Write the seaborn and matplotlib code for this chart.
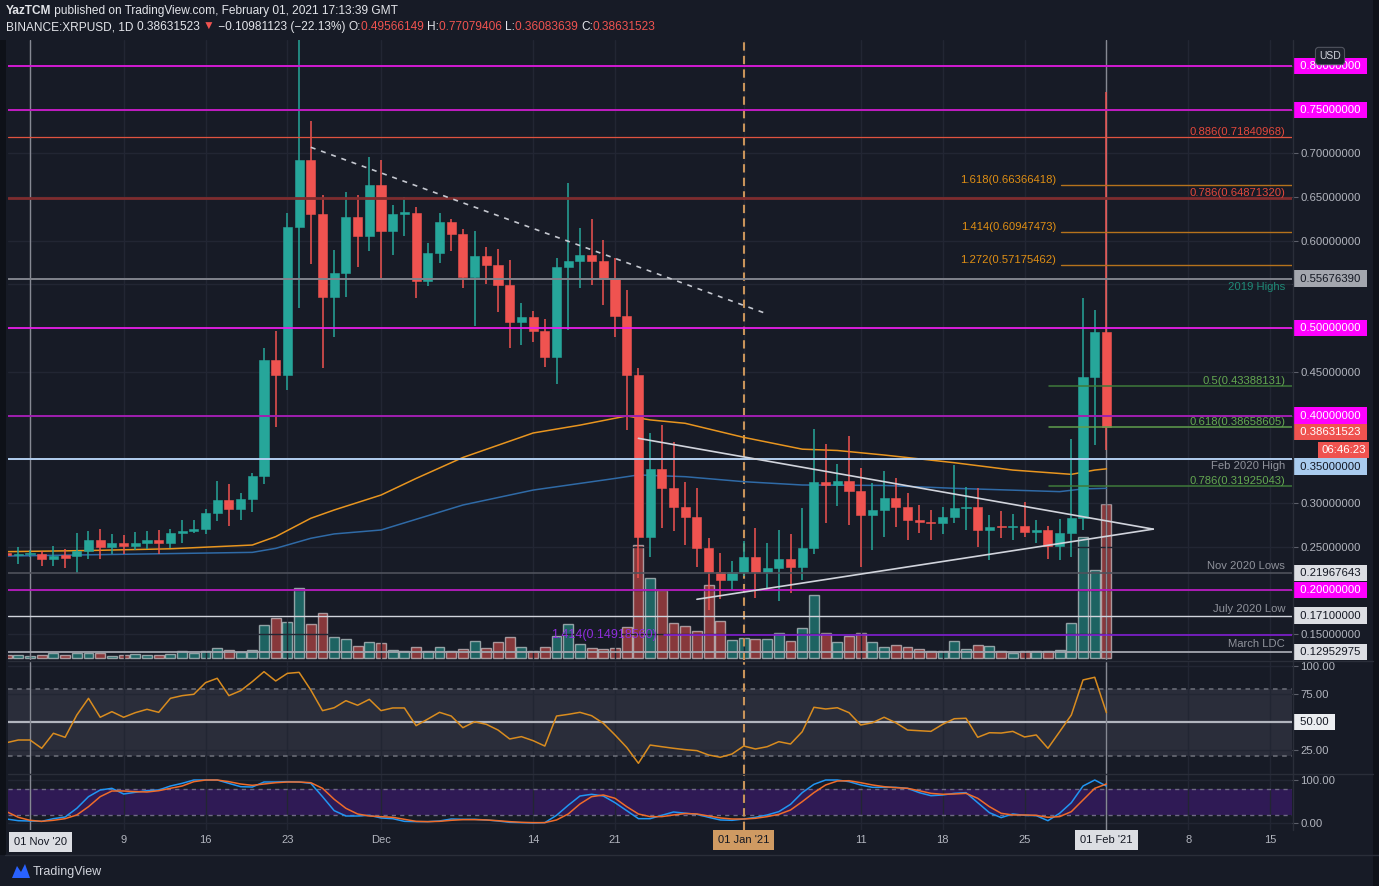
import numpy as np
import pandas as pd
import matplotlib
matplotlib.use("Agg")
import matplotlib.pyplot as plt
import matplotlib.dates as mdates
import matplotlib.transforms as mtransforms
from matplotlib.lines import Line2D
from matplotlib.patches import Polygon, Rectangle
import seaborn as sns

# ─── data ────────────────────────────────────────────────
dates = pd.date_range("2020-10-30", "2021-02-01", freq="D")

opens = [0.243, 0.240, 0.241, 0.241, 0.236, 0.2405, 0.239, 0.245, 0.258, 0.249, 0.254, 0.251, 0.254, 0.257, 0.254, 0.265,
         0.268, 0.270, 0.288, 0.303, 0.293, 0.304, 0.331, 0.463, 0.446, 0.616, 0.693, 0.631, 0.536, 0.563, 0.627, 0.605,
         0.664, 0.611, 0.631, 0.632, 0.554, 0.586, 0.622, 0.608, 0.558, 0.583, 0.572, 0.549, 0.507, 0.513, 0.497, 0.467,
         0.570, 0.577, 0.584, 0.577, 0.556, 0.514, 0.446, 0.261, 0.339, 0.3175, 0.295, 0.284, 0.248, 0.2213, 0.2118,
         0.2205, 0.2377, 0.2205, 0.2251, 0.2355, 0.2262, 0.2488, 0.3243, 0.3205, 0.3247, 0.3136, 0.2865, 0.2919, 0.306,
         0.2957, 0.280, 0.2785, 0.2766, 0.2842, 0.2938, 0.295, 0.2685, 0.2728, 0.2720, 0.2740, 0.2671, 0.2690, 0.2507,
         0.2652, 0.2823, 0.4438, 0.49566]
highs = [0.246, 0.250, 0.246, 0.245, 0.251, 0.247, 0.266, 0.268, 0.270, 0.264, 0.263, 0.267, 0.268, 0.269, 0.270, 0.280,
         0.280, 0.293, 0.325, 0.322, 0.311, 0.334, 0.477, 0.497, 0.632, 0.830, 0.737, 0.652, 0.589, 0.656, 0.652, 0.696,
         0.693, 0.641, 0.650, 0.639, 0.598, 0.632, 0.625, 0.613, 0.611, 0.593, 0.591, 0.578, 0.529, 0.520, 0.511, 0.580,
         0.666, 0.615, 0.625, 0.601, 0.580, 0.544, 0.454, 0.380, 0.389, 0.370, 0.3235, 0.317, 0.2594, 0.243, 0.234,
         0.256, 0.271, 0.2537, 0.2686, 0.2648, 0.2938, 0.385, 0.367, 0.345, 0.3765, 0.3396, 0.3224, 0.337, 0.328, 0.311,
         0.2976, 0.2919, 0.2957, 0.343, 0.3185, 0.3167, 0.2862, 0.2904, 0.2872, 0.3014, 0.2804, 0.2735, 0.282, 0.3728,
         0.535, 0.5208, 0.77079]
lows = [0.238, 0.230, 0.238, 0.228, 0.228, 0.226, 0.220, 0.236, 0.236, 0.242, 0.241, 0.246, 0.247, 0.242, 0.248, 0.254,
        0.265, 0.264, 0.279, 0.274, 0.281, 0.290, 0.322, 0.387, 0.429, 0.523, 0.573, 0.454, 0.490, 0.536, 0.570, 0.588,
        0.555, 0.584, 0.606, 0.534, 0.548, 0.575, 0.588, 0.546, 0.502, 0.550, 0.518, 0.477, 0.481, 0.484, 0.456, 0.436,
        0.498, 0.546, 0.549, 0.526, 0.490, 0.383, 0.214, 0.2385, 0.271, 0.268, 0.2518, 0.2262, 0.178, 0.1896, 0.200,
        0.2163, 0.1908, 0.200, 0.188, 0.1965, 0.2118, 0.2416, 0.2766, 0.297, 0.2747, 0.2262, 0.2461, 0.2614, 0.272,
        0.2575, 0.2652, 0.2575, 0.2645, 0.2775, 0.2685, 0.249, 0.2347, 0.2595, 0.2575, 0.2614, 0.2537, 0.2355, 0.2347,
        0.2378, 0.2695, 0.3663, 0.36084]
closes = [0.240, 0.241, 0.242, 0.236, 0.239, 0.2375, 0.245, 0.258, 0.249, 0.254, 0.251, 0.254, 0.257, 0.254, 0.265, 0.268,
          0.270, 0.288, 0.303, 0.293, 0.304, 0.331, 0.463, 0.446, 0.616, 0.693, 0.631, 0.536, 0.563, 0.627, 0.605, 0.664,
          0.611, 0.631, 0.632, 0.554, 0.586, 0.622, 0.608, 0.558, 0.583, 0.572, 0.549, 0.507, 0.513, 0.497, 0.467, 0.570,
          0.577, 0.584, 0.577, 0.556, 0.514, 0.446, 0.261, 0.339, 0.3175, 0.295, 0.284, 0.248, 0.2213, 0.2118, 0.2205,
          0.2377, 0.2205, 0.2251, 0.2355, 0.2262, 0.2488, 0.3243, 0.3205, 0.3247, 0.3136, 0.2865, 0.2919, 0.306, 0.2957,
          0.280, 0.2785, 0.2766, 0.2842, 0.2938, 0.295, 0.2685, 0.2728, 0.2720, 0.2740, 0.2671, 0.2690, 0.2507, 0.2652,
          0.2823, 0.4438, 0.4957, 0.38632]

# volume in relative units (bar height)
volume = [2.7, 2.7, 2.0, 2.7, 4.7, 2.7, 4.7, 4.7, 4.7, 2.3, 3.3, 4.3, 3.3, 3.3, 4.3, 6.7, 5.0, 6.7, 10.0, 8.3, 5.7, 8.3,
          33.3, 40.0, 35.7, 70.3, 34.3, 45.0, 21.0, 19.0, 11.7, 15.7,
          15.0, 8.3, 6.7, 11.0, 6.7, 10.7, 6.7, 9.0, 17.0, 10.0, 16.0, 21.0, 10.7, 7.3, 10.7, 22.3, 34.3, 14.0, 9.7, 9.0,
          9.7, 30.7, 112.6, 80.0, 68.3, 35.0, 32.3, 26.7, 73.3, 37.0, 18.3,
          20.3, 19.0, 19.0, 25.0, 17.0, 30.0, 63.3, 25.0, 15.7, 21.7, 25.0, 16.0, 11.0, 12.7, 11.0, 9.0, 6.7, 7.0, 17.3,
          9.0, 12.7, 11.7, 6.7, 5.0, 7.3, 6.7, 6.7, 8.0, 35.0, 121.0, 88.0,
          154.0]

rsi = [31.8, 34.2, 34.2, 26.8, 40.2, 36.6, 56.5, 71.4, 54.5, 59.5, 54.5, 58.6, 61.6, 58.9, 71.4, 73.8, 75.0, 85.4, 89.3,
       73.8, 78.2, 86.3, 95.2, 86.9, 93.7, 94.6, 78.8, 60.4, 63.0, 69.3, 65.2, 70.5,
       60.4, 62.8, 62.8, 47.0, 52.9, 58.9, 55.6, 45.2, 50.5, 48.2, 43.1, 35.1, 37.2, 33.6, 28.8, 55.6, 57.1, 58.9, 55.9,
       49.1, 38.7, 27.6, 13.4, 29.7, 28.2, 26.8, 25.6, 24.7, 20.8, 18.8, 21.7,
       28.8, 26.2, 28.2, 32.7, 30.6, 41.6, 63.4, 61.9, 63.0, 58.6, 47.6, 49.6, 54.5, 49.6, 43.1, 42.5, 41.9, 48.2, 53.2,
       53.6, 36.6, 40.7, 40.4, 41.9, 36.9, 38.7, 26.8, 41.6, 56.5, 87.8, 90.2,
       58.6]

stoch_k = [9.9, 6.0, 5.3, 4.5, 10.7, 14.5, 34.6, 61.5, 76.9, 80.8, 67.7, 71.6, 75.3, 76.9, 86.1, 92.3, 100, 100, 100,
           92.3, 84.6, 83.8, 95.4, 95.4, 96.2, 95.4, 92.3, 61.5, 29.2, 16.9, 16.9, 18.4,
           12.3, 10.7, 4.5, 3.8, 3.8, 5.3, 9.9, 9.2, 9.2, 7.7, 5.3, 2.2, 1.5, 0.7, 1.5, 18.4, 41.6, 63.0, 67.0, 63.0,
           47.6, 29.2, 10.7, 10.7, 18.4, 26.1, 23.3, 20.7, 13.8, 7.7, 6.9,
           9.9, 13.8, 19.2, 26.9, 43.8, 70.8, 90.0, 100, 100, 96.2, 88.5, 83.1, 83.1, 83.1, 80.8, 70.8, 63.8, 65.4, 69.2,
           70.8, 47.6, 24.5, 13.1, 21.5, 18.4, 17.7, 6.0, 23.1, 47.6, 86.1, 100,
           86.1]
stoch_d = [26.9, 13.8, 6.9, 4.5, 6.9, 10.7, 19.2, 38.4, 61.5, 74.6, 74.6, 73.1, 72.3, 75.3, 80.8, 86.1, 96.2, 100, 100,
           96.2, 90.8, 87.7, 90.8, 93.8, 95.4, 95.4, 93.8, 80.8, 55.4, 34.6, 21.5, 16.9,
           15.4, 13.8, 9.2, 4.5, 3.8, 4.5, 6.9, 8.4, 8.4, 7.7, 6.0, 3.8, 2.2, 1.5, 1.5, 7.7, 21.5, 44.6, 61.5, 65.4,
           57.7, 38.4, 21.5, 15.4, 15.4, 19.2, 22.6, 21.5, 16.9, 12.3, 9.9,
           9.9, 11.5, 15.4, 20.7, 30.7, 50.0, 70.8, 88.5, 97.7, 98.4, 93.8, 88.5, 84.6, 82.3, 80.8, 75.3, 69.2, 67.0, 67.7,
           69.2, 57.7, 38.4, 23.1, 19.2, 19.2, 18.4, 13.8, 15.4, 26.9, 53.9, 80.8,
           90.8]

ma_orange_dates = ["2020-10-30", "2020-11-06", "2020-11-13", "2020-11-20", "2020-11-22", "2020-11-25", "2020-11-27",
                   "2020-12-01", "2020-12-04", "2020-12-08", "2020-12-11", "2020-12-14", "2020-12-18", "2020-12-22",
                   "2020-12-24", "2020-12-27", "2021-01-01", "2021-01-06", "2021-01-09", "2021-01-13", "2021-01-19",
                   "2021-01-24", "2021-01-29", "2021-01-31", "2021-02-01"]
ma_orange = [0.2442, 0.2455, 0.2475, 0.2518, 0.2614, 0.2824, 0.2919, 0.309, 0.328, 0.352, 0.366, 0.380, 0.389, 0.3995,
             0.3950, 0.3911, 0.375, 0.3615, 0.360, 0.3548, 0.346, 0.3376, 0.3327, 0.3376, 0.339]
ma_blue_dates = ["2020-10-30", "2020-11-20", "2020-11-22", "2020-11-25", "2020-11-27", "2020-12-01", "2020-12-08",
                 "2020-12-14", "2020-12-21", "2020-12-23", "2020-12-27", "2021-01-01", "2021-01-06", "2021-01-13",
                 "2021-01-19", "2021-01-28", "2021-01-30", "2021-02-01"]
ma_blue = [0.2392, 0.2434, 0.248, 0.2595, 0.2645, 0.269, 0.2976, 0.3147, 0.328, 0.332, 0.330, 0.3243, 0.3205, 0.3200,
           0.3167, 0.3129, 0.3160, 0.3167]

# drawings: start/end of trend lines
tri_upper = (["2020-12-23 00:00", "2021-02-05 00:00"], [0.3739, 0.2700])
tri_lower = (["2020-12-28 00:00", "2021-02-05 00:00"], [0.1897, 0.2700])
down_trend = (["2020-11-25 00:00", "2021-01-02 19:00"], [0.707, 0.5173])

tick_dates = ["2020-11-01", "2020-11-09", "2020-11-16", "2020-11-23", "2020-12-01", "2020-12-14", "2020-12-21",
              "2021-01-01", "2021-01-11", "2021-01-18", "2021-01-25", "2021-02-01", "2021-02-08", "2021-02-15"]
tick_labels = ["", "9", "16", "23", "Dec", "14", "21", "01 Jan '21", "11", "18", "25", "01 Feb '21", "8", "15"]
price_ticks = [0.15, 0.25, 0.30, 0.45, 0.60, 0.65, 0.70]

# ─── style ───────────────────────────────────────────────
BG = "#171b26"
GRID = "#222633"
TEAL = "#26a69a"
RED = "#ef5350"
TXT = "#b2b5be"
DARK = "#131722"
MAGENTA = "#ff00ff"
LIGHT = "#dcdee3"

sns.set_theme(style="dark", rc={"axes.facecolor": BG, "figure.facecolor": BG, "savefig.facecolor": BG,
                                "text.color": TXT, "xtick.color": TXT, "ytick.color": TXT})
plt.rcParams["font.family"] = ["Liberation Sans", "DejaVu Sans"]

W, H = 1379, 886
fig = plt.figure(figsize=(W / 100, H / 100), dpi=100)


def fbox(x0, y0, x1, y1):
    return [x0 / W, 1 - y1 / H, (x1 - x0) / W, (y1 - y0) / H]


def dnum(seq):
    return mdates.date2num(pd.to_datetime(seq, format="ISO8601"))


ax_p = fig.add_axes(fbox(8, 40, 1292, 660))
ax_v = ax_p.twinx()
ax_r = fig.add_axes(fbox(8, 662, 1292, 773))
ax_s = fig.add_axes(fbox(8, 773, 1292, 830))

x = mdates.date2num(dates)
nov1, jan1, feb1 = dnum(["2020-11-01", "2021-01-01", "2021-02-01"])
x_left, x_right = nov1 - 1.88, nov1 + 107.86
tick_x = dnum(tick_dates)

o, h, l, c = map(np.array, (opens, highs, lows, closes))
up = c >= o
cols = np.where(up, TEAL, RED)

# ─── volume (twin axis underneath) ───────────────────────
ax_v.set_zorder(ax_p.get_zorder() - 1)
ax_p.patch.set_visible(False)
ax_v.patch.set_visible(True)
ax_v.set_facecolor(BG)
ax_v.bar(x, volume, width=0.85, color=cols, alpha=0.52, zorder=1)
ax_v.set_ylim(-2, 618)
ax_v.set_yticks([])
ax_v.grid(False)
for sp in ax_v.spines.values():
    sp.set_visible(False)

# ─── candles ─────────────────────────────────────────────
sns.lineplot(x=dnum(ma_orange_dates), y=ma_orange, ax=ax_p, color="#e8951f", lw=1.1, zorder=1.8)
sns.lineplot(x=dnum(ma_blue_dates), y=ma_blue, ax=ax_p, color="#2f6aa6", lw=1.1, zorder=1.8)
ax_p.vlines(x, l, h, colors=cols, lw=1.1, zorder=2)
ax_p.bar(x, np.maximum(np.abs(c - o), 0.0016), bottom=np.minimum(o, c), width=0.78, color=cols,
         edgecolor=cols, lw=0.4, zorder=2.1)

# horizontal levels
full_levels = [0.80, 0.75, 0.71840968, 0.6487132, 0.5567639, 0.50, 0.40, 0.35, 0.21967643, 0.20, 0.171, 0.12952975]
full_colors = ["#d21ad2", "#c21cc2", "#e0533f", "#7e2c2e", "#80838c", "#e81ee8", "#a01fb0", "#b3cff0", "#4f525c",
               "#b81cc0", "#d1d4dc", "#a3a6af"]
full_widths = [1.4, 1.4, 0.9, 2.0, 1.4, 1.3, 1.4, 1.4, 1.2, 1.3, 1.0, 1.3]
for y, col, lw in zip(full_levels, full_colors, full_widths):
    ax_p.axhline(y, color=col, lw=lw, zorder=3)

for y in [0.66366418, 0.60947473, 0.57175462]:
    ax_p.axhline(y, xmin=0.8201, xmax=1, color="#b5721c", lw=1.0, zorder=3)
for y, col in zip([0.43388131, 0.38658605, 0.31925043], ["#3f7a3a", "#5f9e4c", "#3f7a3a"]):
    ax_p.axhline(y, xmin=0.8107, xmax=1, color=col, lw=1.1, zorder=3)
ax_p.axhline(0.1491856, xmin=0.5106, xmax=1, color="#8a1ee0", lw=1.1, zorder=3)

# trend lines
for (d, v) in (tri_upper, tri_lower):
    ax_p.plot(dnum(d), v, color="#d1d4dc", lw=1.2, zorder=4)
ax_p.plot(dnum(down_trend[0]), down_trend[1], color="#c5c8d0", lw=1.2, ls=(0, (3, 3.5)), zorder=4)


# level annotations
def note(txt, y, xr, color, dy=0, va="bottom", size=8.1):
    ax_p.annotate(txt, xy=(xr, y), xycoords=("axes fraction", "data"), xytext=(0, dy), textcoords="offset points",
                  ha="right", va=va, color=color, fontsize=size, zorder=5)


note("0.886(0.71840968)", 0.71840968, 0.9946, "#e5483c")
note("0.786(0.64871320)", 0.6487132, 0.9946, "#e5483c")
note("1.618(0.66366418)", 0.66366418, 0.8162, "#e08f14")
note("1.414(0.60947473)", 0.60947473, 0.8162, "#e08f14")
note("1.272(0.57175462)", 0.57175462, 0.8162, "#e08f14")
note("2019 Highs", 0.5567639, 0.9946, "#1f8a77", dy=-2.5, va="top")
note("0.5(0.43388131)", 0.43388131, 0.9946, "#64a851")
note("0.618(0.38658605)", 0.38658605, 0.9946, "#64a851")
note("0.786(0.31925043)", 0.31925043, 0.9946, "#64a851")
note("Feb 2020 High", 0.35, 0.9946, "#8f929b", dy=-1.5, va="top")
note("Nov 2020 Lows", 0.21967643, 0.9946, "#8f929b", dy=1.5)
note("July 2020 Low", 0.171, 0.9946, "#8f929b", dy=1.5)
note("March LDC", 0.12952975, 0.9946, "#8f929b", dy=2)
note("1.414(0.14918560)", 0.1491856, 0.5055, "#8f2ddc", va="center", size=9)

# ─── RSI ─────────────────────────────────────────────────
ax_r.axhspan(20, 80, color="#2a2d3a", zorder=0.5, lw=0)
for lvl in (80, 20):
    ax_r.axhline(lvl, color="#6f727c", lw=1.1, ls=(0, (3, 3)), zorder=1)
ax_r.axhline(50, color="#b2b5be", lw=1.6, zorder=1)
sns.lineplot(x=x, y=rsi, ax=ax_r, color="#d98c1f", lw=1.1, zorder=3)
ax_r.set_ylim(4.73, 103.84)

# ─── Stoch RSI ───────────────────────────────────────────
ax_s.axhspan(20, 80, color="#2f1a55", zorder=0.5, lw=0)
for lvl in (80, 20):
    ax_s.axhline(lvl, color="#6f6a85", lw=1.0, ls=(0, (3, 3)), zorder=1)
sns.lineplot(x=x, y=stoch_k, ax=ax_s, color="#2196f3", lw=1.1, zorder=3)
sns.lineplot(x=x, y=stoch_d, ax=ax_s, color="#ef6c2a", lw=1.1, zorder=3.1)
ax_s.set_ylim(-15.5, 116.2)

# ─── axes cosmetics ──────────────────────────────────────
for ax in (ax_p, ax_r, ax_s):
    ax.set_xlim(x_left, x_right)
    ax.set_xticks(tick_x)
    ax.grid(True, axis="x", color=GRID, lw=1)
    ax.set_xlabel("")
    ax.set_ylabel("")
    for sp in ax.spines.values():
        sp.set_visible(False)
    ax.tick_params(axis="x", length=0, labelbottom=False)
    ax.yaxis.tick_right()
    ax.tick_params(axis="y", length=4, width=0.8, color="#5d606b", labelsize=8.2, labelcolor=TXT, pad=2)
    ax.axvline(nov1, color="#868993", lw=1, zorder=1.5)
    ax.axvline(feb1, color="#868993", lw=1, zorder=1.5)
    ax.axvline(jan1, color="#c8935a", lw=1.5, ls=(0, (4, 2.5)), zorder=1.5)

ax_p.set_ylim(0.12022, 0.82976)
ax_p.set_yticks(price_ticks)
ax_p.set_yticklabels([f"{v:.8f}" for v in price_ticks])
ax_p.set_yticks(np.arange(0.15, 0.801, 0.05), minor=True)
ax_p.tick_params(axis="y", which="minor", length=4, width=0.8, color="#5d606b")
ax_p.grid(True, axis="y", which="both", color=GRID, lw=1)

ax_r.set_yticks([25, 75, 100])
ax_r.set_yticklabels(["25.00", "75.00", "100.00"])
ax_r.grid(True, axis="y", color=GRID, lw=1)
ax_s.set_yticks([0, 100])
ax_s.set_yticklabels(["0.00", "100.00"])
ax_s.grid(True, axis="y", color=GRID, lw=1)

ax_s.tick_params(axis="x", labelbottom=True, labelsize=8, labelcolor=TXT, pad=3.5)
ax_s.set_xticklabels(tick_labels)
for lab in ax_s.get_xticklabels():
    if lab.get_text() == "01 Jan '21":
        lab.set_bbox(dict(boxstyle="square,pad=0.45", fc="#cf9a62", ec="none"))
        lab.set_color(DARK)
    elif lab.get_text() == "01 Feb '21":
        lab.set_bbox(dict(boxstyle="square,pad=0.45", fc=LIGHT, ec="none"))
        lab.set_color(DARK)
ax_s.text(0.0045, -0.215, "01 Nov '20", transform=ax_s.transAxes, ha="left", va="center", fontsize=8, color=DARK,
          bbox=dict(boxstyle="square,pad=0.45", fc=LIGHT, ec="none"), zorder=6)

# right price-scale boxes
box_vals = [0.80, 0.75, 0.5567639, 0.50, 0.40, 0.38631523, 0.35, 0.21967643, 0.20, 0.171, 0.12952975]
box_text = ["0.80000000", "0.75000000", "0.55676390", "0.50000000", "0.40000000", "0.38631523", "0.35000000",
            "0.21967643", "0.20000000", "0.17100000", "0.12952975"]
box_face = [MAGENTA, MAGENTA, "#a3a6ae", MAGENTA, MAGENTA, RED, "#a9cbee", LIGHT, MAGENTA, LIGHT, LIGHT]
box_ink = ["white", "white", DARK, "white", "white", "white", DARK, DARK, "white", DARK, DARK]
box_shift = [0, 0, 0, 0, 0, -4.8, -7.4, 0, 0, 0, 0]
blend = mtransforms.blended_transform_factory(ax_p.transAxes, ax_p.transData)
for v, t, fc, ink, sh in zip(box_vals, box_text, box_face, box_ink, box_shift):
    tr = mtransforms.offset_copy(blend, fig=fig, y=sh, units="dots")
    ax_p.text(1.0038, v, f" {t} ", transform=tr, ha="left", va="center", fontsize=8.2, color=ink,
              bbox=dict(boxstyle="square,pad=0.28", fc=fc, ec="none"), zorder=6, clip_on=False)
tr = mtransforms.offset_copy(blend, fig=fig, y=-22.5, units="dots")
ax_p.text(1.0575, 0.38631523, "06:46:23", transform=tr, ha="right", va="center", fontsize=8.2, color="white",
          bbox=dict(boxstyle="square,pad=0.28", fc=RED, ec="none"), zorder=6, clip_on=False)
blend_r = mtransforms.blended_transform_factory(ax_r.transAxes, ax_r.transData)
ax_r.text(1.0038, 50, " 50.00 ", transform=blend_r, ha="left", va="center", fontsize=8.2, color=DARK,
          bbox=dict(boxstyle="square,pad=0.28", fc="#eceef1", ec="none"), zorder=6, clip_on=False)

fig.text(1330 / W, 1 - 56 / H, "USD", ha="center", va="center", fontsize=7.5, color="#d1d4dc",
         bbox=dict(boxstyle="round,pad=0.35,rounding_size=0.3", fc="#1e222d", ec="#50535e", lw=0.8), zorder=10)


# ─── frame lines ─────────────────────────────────────────
def px_line(xs, ys, col, lw=1.0):
    fig.add_artist(Line2D([v / W for v in xs], [1 - v / H for v in ys], color=col, lw=lw, zorder=0.5))


px_line([8, 1373], [661, 661], "#2a2e39")
px_line([8, 1373], [773.5, 773.5], "#2a2e39")
px_line([1292.5, 1292.5], [40, 830], "#2a2e39")
px_line([5, 1379], [855, 855], "#2a2e39")
fig.add_artist(Rectangle((0, 1 - 855 / H), 6 / W, (855 - 40) / H, transform=fig.transFigure, fc="#0e1118",
                         ec="none", zorder=0.4))
fig.add_artist(Rectangle((1373 / W, 0), 6 / W, 1, transform=fig.transFigure, fc="#0e1118", ec="none", zorder=0.4))

# ─── header ──────────────────────────────────────────────
renderer = fig.canvas.get_renderer()


def header_row(parts, x_px, y_px, size=8.6):
    for txt, col, bold in parts:
        t = fig.text(x_px / W, 1 - y_px / H, txt, color=col, fontsize=size,
                     fontweight="bold" if bold else "normal", ha="left", va="center")
        x_px += t.get_window_extent(renderer).width


WHITE = "#e3e5ea"
header_row([("YazTCM", WHITE, True), (" published on TradingView.com, February 01, 2021 17:13:39 GMT", WHITE, False)],
           6, 11)
header_row([("BINANCE:XRPUSD, 1D ", WHITE, False), ("0.38631523 ", WHITE, False), ("▼", RED, False),
            (" \u22120.10981123 (\u221222.13%) ", WHITE, False),
            ("O:", WHITE, False), ("0.49566149 ", RED, False), ("H:", WHITE, False), ("0.77079406 ", RED, False),
            ("L:", WHITE, False), ("0.36083639 ", RED, False), ("C:", WHITE, False), ("0.38631523", RED, False)],
           6, 27)

# TradingView logo
fig.add_artist(Polygon([(12 / W, 1 - 878 / H), (17 / W, 1 - 866 / H), (21 / W, 1 - 872 / H), (25 / W, 1 - 864 / H),
                        (30 / W, 1 - 878 / H)], closed=True, transform=fig.transFigure, fc="#2962ff", ec="none"))
fig.text(33 / W, 1 - 872 / H, "TradingView", fontsize=9, color="#d1d4dc", ha="left", va="center")

fig.savefig("out.png", dpi=100)
